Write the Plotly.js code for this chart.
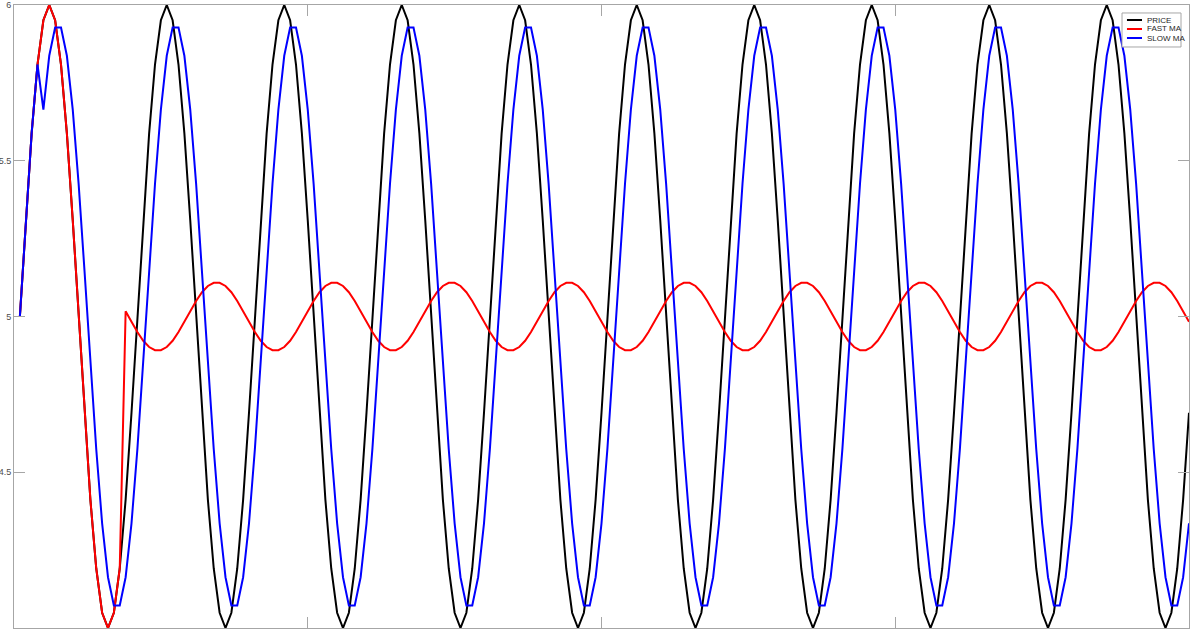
<!DOCTYPE html>
<html>
<head>
<meta charset="utf-8">
<script src="https://cdn.plot.ly/plotly-3.0.1.min.js"></script>
<style>html,body{margin:0;padding:0;background:#fff;}#chart{width:1200px;height:630px;}</style>
</head>
<body>
<div id="chart"></div>
<script>
// Series names and colours (legend order)
const seriesNames = ["PRICE", "FAST MA", "SLOW MA"];
const seriesColors = ["#000000", "#ff0000", "#0000ff"];

// Sample index starts at 1, step 1 (200 samples)
const price = [
5,5.309,5.588,5.809,5.951,6,5.951,5.809,5.588,5.309,5,4.691,4.412,4.191,4.049,4,4.049,4.191,4.412,4.691,
5,5.309,5.588,5.809,5.951,6,5.951,5.809,5.588,5.309,5,4.691,4.412,4.191,4.049,4,4.049,4.191,4.412,4.691,
5,5.309,5.588,5.809,5.951,6,5.951,5.809,5.588,5.309,5,4.691,4.412,4.191,4.049,4,4.049,4.191,4.412,4.691,
5,5.309,5.588,5.809,5.951,6,5.951,5.809,5.588,5.309,5,4.691,4.412,4.191,4.049,4,4.049,4.191,4.412,4.691,
5,5.309,5.588,5.809,5.951,6,5.951,5.809,5.588,5.309,5,4.691,4.412,4.191,4.049,4,4.049,4.191,4.412,4.691,
5,5.309,5.588,5.809,5.951,6,5.951,5.809,5.588,5.309,5,4.691,4.412,4.191,4.049,4,4.049,4.191,4.412,4.691,
5,5.309,5.588,5.809,5.951,6,5.951,5.809,5.588,5.309,5,4.691,4.412,4.191,4.049,4,4.049,4.191,4.412,4.691,
5,5.309,5.588,5.809,5.951,6,5.951,5.809,5.588,5.309,5,4.691,4.412,4.191,4.049,4,4.049,4.191,4.412,4.691,
5,5.309,5.588,5.809,5.951,6,5.951,5.809,5.588,5.309,5,4.691,4.412,4.191,4.049,4,4.049,4.191,4.412,4.691,
5,5.309,5.588,5.809,5.951,6,5.951,5.809,5.588,5.309,5,4.691,4.412,4.191,4.049,4,4.049,4.191,4.412,4.691
];

const fastMA = [
5,5.309,5.588,5.809,5.951,6,5.951,5.809,5.588,5.309,5,4.691,4.412,4.191,4.049,4,4.049,4.191,5.017,4.983,
4.950,4.922,4.902,4.892,4.892,4.902,4.922,4.950,4.983,5.017,5.050,5.078,5.098,5.108,5.108,5.098,5.078,5.050,5.017,4.983,
4.950,4.922,4.902,4.892,4.892,4.902,4.922,4.950,4.983,5.017,5.050,5.078,5.098,5.108,5.108,5.098,5.078,5.050,5.017,4.983,
4.950,4.922,4.902,4.892,4.892,4.902,4.922,4.950,4.983,5.017,5.050,5.078,5.098,5.108,5.108,5.098,5.078,5.050,5.017,4.983,
4.950,4.922,4.902,4.892,4.892,4.902,4.922,4.950,4.983,5.017,5.050,5.078,5.098,5.108,5.108,5.098,5.078,5.050,5.017,4.983,
4.950,4.922,4.902,4.892,4.892,4.902,4.922,4.950,4.983,5.017,5.050,5.078,5.098,5.108,5.108,5.098,5.078,5.050,5.017,4.983,
4.950,4.922,4.902,4.892,4.892,4.902,4.922,4.950,4.983,5.017,5.050,5.078,5.098,5.108,5.108,5.098,5.078,5.050,5.017,4.983,
4.950,4.922,4.902,4.892,4.892,4.902,4.922,4.950,4.983,5.017,5.050,5.078,5.098,5.108,5.108,5.098,5.078,5.050,5.017,4.983,
4.950,4.922,4.902,4.892,4.892,4.902,4.922,4.950,4.983,5.017,5.050,5.078,5.098,5.108,5.108,5.098,5.078,5.050,5.017,4.983,
4.950,4.922,4.902,4.892,4.892,4.902,4.922,4.950,4.983,5.017,5.050,5.078,5.098,5.108,5.108,5.098,5.078,5.050,5.017,4.983
];

const slowMA = [
5,5.309,5.588,5.809,5.664,5.837,5.928,5.928,5.837,5.664,5.426,5.147,4.853,4.574,4.336,4.163,4.072,4.072,4.163,4.336,
4.574,4.853,5.147,5.426,5.664,5.837,5.928,5.928,5.837,5.664,5.426,5.147,4.853,4.574,4.336,4.163,4.072,4.072,4.163,4.336,
4.574,4.853,5.147,5.426,5.664,5.837,5.928,5.928,5.837,5.664,5.426,5.147,4.853,4.574,4.336,4.163,4.072,4.072,4.163,4.336,
4.574,4.853,5.147,5.426,5.664,5.837,5.928,5.928,5.837,5.664,5.426,5.147,4.853,4.574,4.336,4.163,4.072,4.072,4.163,4.336,
4.574,4.853,5.147,5.426,5.664,5.837,5.928,5.928,5.837,5.664,5.426,5.147,4.853,4.574,4.336,4.163,4.072,4.072,4.163,4.336,
4.574,4.853,5.147,5.426,5.664,5.837,5.928,5.928,5.837,5.664,5.426,5.147,4.853,4.574,4.336,4.163,4.072,4.072,4.163,4.336,
4.574,4.853,5.147,5.426,5.664,5.837,5.928,5.928,5.837,5.664,5.426,5.147,4.853,4.574,4.336,4.163,4.072,4.072,4.163,4.336,
4.574,4.853,5.147,5.426,5.664,5.837,5.928,5.928,5.837,5.664,5.426,5.147,4.853,4.574,4.336,4.163,4.072,4.072,4.163,4.336,
4.574,4.853,5.147,5.426,5.664,5.837,5.928,5.928,5.837,5.664,5.426,5.147,4.853,4.574,4.336,4.163,4.072,4.072,4.163,4.336,
4.574,4.853,5.147,5.426,5.664,5.837,5.928,5.928,5.837,5.664,5.426,5.147,4.853,4.574,4.336,4.163,4.072,4.072,4.163,4.336
];

const yTickVals = [4, 4.5, 5, 5.5, 6];
const yTickText = ["4", "4.5", "5", "5.5", "6"];
const xTickVals = [0, 50, 100, 150, 200];

const seriesData = [price, fastMA, slowMA];
const traces = seriesData.map((ys, k) => ({
  type: "scatter",
  mode: "lines",
  x0: 1,
  dx: 1,
  y: ys,
  name: seriesNames[k],
  line: { color: seriesColors[k], width: 2 },
  showlegend: false,
  hoverinfo: "skip"
}));

const axisGray = "#a6a6a6";

// Hand-built legend box (MATLAB style)
const legX0 = 0.9430, legX1 = 0.9932, legY0 = 0.9326, legY1 = 0.9872;
const lineX0 = 0.9472, lineX1 = 0.9600, textX = 0.9626;
const rowY = [0.9759, 0.9615, 0.9470];

const shapes = [{
  type: "rect", xref: "paper", yref: "paper",
  x0: legX0, x1: legX1, y0: legY0, y1: legY1,
  line: { color: axisGray, width: 1 }, fillcolor: "#ffffff", layer: "above"
}];
const annotations = [];
seriesNames.forEach((nm, k) => {
  shapes.push({
    type: "line", xref: "paper", yref: "paper",
    x0: lineX0, x1: lineX1, y0: rowY[k], y1: rowY[k],
    line: { color: seriesColors[k], width: 2 }, layer: "above"
  });
  annotations.push({
    xref: "paper", yref: "paper", x: textX, y: rowY[k],
    xanchor: "left", yanchor: "middle", showarrow: false,
    text: nm, font: { family: "Liberation Sans, Arial, sans-serif", size: 8, color: "#262626" }
  });
});

const layout = {
  width: 1200, height: 630,
  margin: { l: 14, r: 11, t: 5, b: 2, pad: 0 },
  paper_bgcolor: "#ffffff", plot_bgcolor: "#ffffff",
  showlegend: false,
  xaxis: {
    range: [0, 200], tickmode: "array", tickvals: xTickVals,
    ticks: "inside", ticklen: 11, tickwidth: 1, tickcolor: axisGray,
    showline: true, linecolor: axisGray, linewidth: 1, mirror: "ticks",
    showgrid: false, zeroline: false, showticklabels: false
  },
  yaxis: {
    range: [4, 6], tickmode: "array", tickvals: yTickVals, ticktext: yTickText,
    ticks: "inside", ticklen: 11, tickwidth: 1, tickcolor: axisGray,
    showline: true, linecolor: axisGray, linewidth: 1, mirror: "ticks",
    showgrid: false, zeroline: false,
    tickfont: { family: "Liberation Sans, Arial, sans-serif", size: 9, color: "#4d4d4d" }
  },
  shapes: shapes,
  annotations: annotations
};

Plotly.newPlot("chart", traces, layout, { staticPlot: true, displayModeBar: false });
</script>
</body>
</html>
